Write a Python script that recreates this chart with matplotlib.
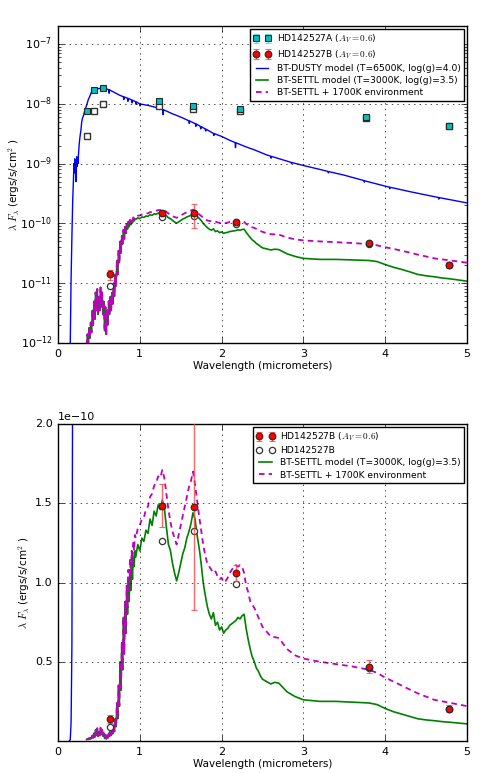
import matplotlib
matplotlib.use("Agg")
import matplotlib.pyplot as plt
import numpy as np

plt.style.use("classic")
plt.rcParams.update({
    "figure.facecolor": "white",
    "savefig.facecolor": "white",
    "font.family": ["DejaVu Sans"],
    "xtick.labelsize": 8,
    "ytick.labelsize": 8,
    "axes.labelsize": 7.5,
    "legend.fontsize": 6.6,
})

UNIT = 1e-10  # all flux values below are in units of 1e-10 ergs/s/cm^2

# ---- BT-DUSTY model (T=6500K) ----
dusty_wl = [0.14, 0.15, 0.16, 0.17, 0.18, 0.19, 0.195, 0.2, 0.205, 0.21, 0.215, 0.22, 0.225,
            0.23, 0.235, 0.24, 0.245, 0.25, 0.26, 0.27, 0.28, 0.29, 0.3, 0.31, 0.33, 0.35, 0.37,
            0.39, 0.41, 0.43, 0.47, 0.51, 0.55, 0.6, 0.62, 0.625, 0.63, 0.7, 0.75, 0.8, 0.805,
            0.81, 0.85, 0.855, 0.86, 0.9, 0.905, 0.91, 0.95, 0.955, 0.96, 1.0, 1.005, 1.01, 1.1,
            1.2, 1.28, 1.285, 1.29, 1.4, 1.5, 1.6, 1.605, 1.61, 1.68, 1.685, 1.69, 1.74, 1.745,
            1.75, 1.8, 1.805, 1.81, 1.9, 1.905, 1.91, 2.0, 2.1, 2.165, 2.17, 2.175, 2.3, 2.4,
            2.55, 2.6, 2.605, 2.61, 2.8, 2.85, 2.855, 2.86, 3.0, 3.2, 3.3, 3.305, 3.31, 3.5,
            3.74, 3.745, 3.75, 4.0, 4.05, 4.055, 4.06, 4.3, 4.6, 4.65, 4.655, 4.66, 5.0]
dusty_flux = [0.001, 0.01, 0.12, 0.6, 2.5, 6.0, 10, 7, 12, 8, 11, 5, 10,
              13, 9, 12, 10, 14, 22, 29, 36, 50, 58, 62, 80, 95, 117,
              135, 158, 168, 176, 181, 185, 176, 172, 150, 171, 152, 140, 131, 118,
              130, 124, 110, 123, 116, 104, 115, 108, 98, 107, 100, 92, 99, 94,
              87, 80, 66, 79.5, 68, 60, 52, 47, 51.5, 46.5, 42, 46, 42, 38,
              41.5, 38, 35, 37.6, 32, 29.5, 31.7, 28.5, 24.5, 22.5, 18.5, 22.3, 19, 17,
              14, 13.3, 12.3, 13.2, 11.0, 10.5, 10.0, 10.4, 9.3, 8.0, 7.4, 7.0, 7.35, 6.4,
              5.2, 4.9, 5.15, 4.2, 4.05, 3.8, 4.02, 3.4, 2.8, 2.72, 2.55, 2.7, 2.2]

# ---- BT-SETTL model (T=3000K) ----
settl_wl_short = [0.35, 0.36, 0.37, 0.38, 0.39, 0.40, 0.41, 0.42, 0.43, 0.44, 0.45, 0.46, 0.47,
                  0.48, 0.49, 0.50, 0.51, 0.52, 0.53, 0.54, 0.55, 0.56, 0.57, 0.58, 0.59, 0.60,
                  0.61, 0.62, 0.63, 0.64, 0.65, 0.66, 0.67, 0.68, 0.69, 0.70, 0.71, 0.72, 0.73,
                  0.74, 0.75, 0.76, 0.77, 0.78, 0.79, 0.80, 0.81, 0.82, 0.83, 0.84, 0.85, 0.86,
                  0.87, 0.88, 0.89, 0.90, 0.91, 0.92, 0.93, 0.94]
settl_flux_short = [0.009, 0.014, 0.010, 0.018, 0.012, 0.022, 0.015, 0.035, 0.02, 0.05, 0.025, 0.07,
                    0.035, 0.08, 0.03, 0.06, 0.035, 0.085, 0.04, 0.07, 0.03, 0.05, 0.016, 0.04,
                    0.014, 0.035, 0.02, 0.05, 0.03, 0.06, 0.035, 0.07, 0.045, 0.10, 0.06, 0.14,
                    0.09, 0.24, 0.14, 0.35, 0.22, 0.50, 0.32, 0.62, 0.45, 0.78, 0.55, 0.88, 0.68,
                    0.98, 0.80, 1.02, 0.88, 1.08, 0.95, 1.12, 1.02, 1.16, 1.10, 1.20]
settl_wl_mid = [0.95, 0.975, 1.0, 1.025, 1.05, 1.075, 1.1, 1.125, 1.15, 1.175, 1.2, 1.225, 1.25,
                1.275, 1.3, 1.325, 1.35, 1.375, 1.4, 1.425, 1.45, 1.475, 1.5, 1.525, 1.55, 1.575,
                1.6, 1.625, 1.65, 1.675, 1.7, 1.725, 1.75, 1.775, 1.8, 1.825, 1.85, 1.875, 1.9,
                1.925, 1.95, 1.975, 2.0, 2.025, 2.05, 2.075, 2.1, 2.125, 2.15, 2.175, 2.2, 2.225,
                2.25, 2.275, 2.3, 2.325, 2.35, 2.375, 2.4, 2.425, 2.45, 2.475, 2.5]
settl_flux_mid = [1.16, 1.24, 1.20, 1.28, 1.26, 1.33, 1.31, 1.40, 1.36, 1.45, 1.42, 1.49, 1.46,
                  1.52, 1.47, 1.35, 1.24, 1.20, 1.12, 1.06, 1.01, 1.06, 1.12, 1.18, 1.22, 1.28,
                  1.32, 1.37, 1.44, 1.40, 1.30, 1.22, 1.12, 1.00, 0.92, 0.85, 0.80, 0.77, 0.81,
                  0.73, 0.75, 0.70, 0.72, 0.68, 0.70, 0.71, 0.73, 0.74, 0.75, 0.76, 0.78, 0.77,
                  0.79, 0.80, 0.71, 0.64, 0.58, 0.53, 0.50, 0.46, 0.44, 0.41, 0.39]
settl_wl_tail = [2.6, 2.65, 2.7, 2.8, 2.9, 3.0, 3.2, 3.4, 3.6, 3.8, 3.9, 4.0, 4.1, 4.2, 4.3, 4.4,
                 4.5, 4.6, 4.7, 4.8, 4.9, 5.0]
settl_flux_tail = [0.36, 0.37, 0.365, 0.31, 0.28, 0.26, 0.25, 0.25, 0.245, 0.24, 0.23, 0.205,
                   0.185, 0.17, 0.155, 0.14, 0.133, 0.128, 0.122, 0.118, 0.113, 0.108]

# ---- BT-SETTL + 1700K environment ----
env_flux_short = [0.009, 0.014, 0.010, 0.018, 0.012, 0.022, 0.015, 0.035, 0.02, 0.05, 0.025, 0.07,
                  0.035, 0.08, 0.03, 0.06, 0.035, 0.085, 0.04, 0.07, 0.03, 0.05, 0.016, 0.04,
                  0.014, 0.035, 0.02, 0.05, 0.03, 0.06, 0.035, 0.07, 0.045, 0.10, 0.06, 0.14,
                  0.09, 0.24, 0.14, 0.35, 0.22, 0.50, 0.32, 0.62, 0.45, 0.78, 0.55, 0.88, 0.68,
                  0.98, 0.84, 1.08, 0.95, 1.15, 1.04, 1.20, 1.12, 1.26, 1.20, 1.30]
env_flux_mid = [1.28, 1.34, 1.36, 1.40, 1.41, 1.46, 1.48, 1.54, 1.56, 1.61, 1.63, 1.67, 1.66,
                1.71, 1.66, 1.56, 1.46, 1.38, 1.32, 1.28, 1.24, 1.30, 1.36, 1.42, 1.48, 1.54,
                1.60, 1.64, 1.70, 1.62, 1.52, 1.42, 1.33, 1.24, 1.17, 1.12, 1.10, 1.08, 1.06,
                1.07, 1.04, 1.02, 1.03, 1.00, 1.01, 1.03, 1.06, 1.08, 1.10, 1.11, 1.10, 1.11,
                1.10, 1.06, 0.98, 0.94, 0.88, 0.86, 0.84, 0.81, 0.78, 0.75, 0.72]
env_flux_tail = [0.66, 0.655, 0.65, 0.58, 0.54, 0.52, 0.50, 0.485, 0.47, 0.45, 0.43, 0.40,
                 0.375, 0.35, 0.325, 0.30, 0.28, 0.26, 0.25, 0.24, 0.23, 0.22]

# ---- photometry ----
a_wl = [0.36, 0.44, 0.55, 1.235, 1.65, 2.22, 3.77, 4.78]
a_flux = [75, 169, 185, 112, 93, 81, 61, 43]
a_err = [4, 8, 9, 6, 5, 4, 3, 2]
a_raw_flux = [29, 77, 100, 93, 83, 77, 59, 42]

b_wl = [0.64, 1.27, 1.66, 2.18, 3.80, 4.78]
b_flux = [0.14, 1.485, 1.477, 1.06, 0.47, 0.205]
b_err = [0.025, 0.135, 0.65, 0.05, 0.04, 0.025]
b_raw_flux = [0.09, 1.26, 1.325, 0.99, 0.46, 0.20]

lab_a = r"HD142527A ($A_V=0.6$)"
lab_b = r"HD142527B ($A_V=0.6$)"
lab_braw = "HD142527B"
lab_dusty = "BT-DUSTY model (T=6500K, log(g)=4.0)"
lab_settl = "BT-SETTL model (T=3000K, log(g)=3.5)"
lab_env = "BT-SETTL + 1700K environment"
xlabel = "Wavelength (micrometers)"
ylabel = r"$\lambda$ $F_\lambda$ (ergs/s/cm$^2$ )"

u = lambda v: np.asarray(v, dtype=float) * UNIT
settl_wl = settl_wl_short + settl_wl_mid + settl_wl_tail
settl_flux = u(settl_flux_short + settl_flux_mid + settl_flux_tail)
env_flux = u(env_flux_short + env_flux_mid + env_flux_tail)

W, H = 483, 773
fig = plt.figure(figsize=(W / 100, H / 100), dpi=100)
ax1 = fig.add_axes([58 / W, 1 - 343 / H, 409 / W, 317 / H])
ax2 = fig.add_axes([58 / W, 1 - 741 / H, 409 / W, 317 / H])

red_ecol = (1.0, 0.25, 0.25, 0.8)

# ---------- top panel ----------
ax1.plot(settl_wl, settl_flux, color="g", lw=1.2, label=lab_settl, zorder=2)
ax1.plot(settl_wl, env_flux, color="m", lw=1.3, ls="--", dashes=(4, 3), label=lab_env, zorder=2)
ax1.plot(dusty_wl, u(dusty_flux), color="b", lw=1.0, label=lab_dusty, zorder=2)
ax1.plot(a_wl, u(a_raw_flux), ls="none", marker="s", ms=4.5, mfc="white", mec="0.2", mew=1.0, zorder=3)
ax1.errorbar(a_wl, u(a_flux), yerr=u(a_err), fmt="s", ms=4.5, mfc="c", mec="0.15", mew=0.8,
             ecolor=(0.3, 0.85, 0.85, 0.8), capsize=2.5, label=lab_a, zorder=4)
ax1.plot(b_wl, u(b_raw_flux), ls="none", marker="o", ms=4.5, mfc="white", mec="0.2", mew=0.9, zorder=3)
ax1.errorbar(b_wl, u(b_flux), yerr=u(b_err), fmt="o", ms=4.8, mfc="r", mec="0.15", mew=0.8,
             ecolor=red_ecol, capsize=2.5, label=lab_b, zorder=4)
ax1.set_yscale("log")
ax1.set_xlim(0, 5)
ax1.set_ylim(1e-12, 2e-7)
ax1.grid(True)
ax1.set_xlabel(xlabel, labelpad=2)
ax1.set_ylabel(ylabel, labelpad=-1)
h, l = ax1.get_legend_handles_labels()
order = [lab_a, lab_b, lab_dusty, lab_settl, lab_env]
hd = dict(zip(l, h))
ax1.legend([hd[k] for k in order], order, loc="upper right", numpoints=2,
           borderaxespad=0.35, handlelength=2.0, labelspacing=0.35, borderpad=0.35,
           handletextpad=0.6)

# ---------- bottom panel ----------
ax2.plot(dusty_wl, u(dusty_flux), color="b", lw=1.0, zorder=2)
ax2.plot(settl_wl, settl_flux, color="g", lw=1.2, label=lab_settl, zorder=2)
ax2.plot(settl_wl, env_flux, color="m", lw=1.3, ls="--", dashes=(4, 3), label=lab_env, zorder=2)
ax2.plot(b_wl, u(b_raw_flux), ls="none", marker="o", ms=4.5, mfc="white", mec="0.2", mew=0.9,
         label=lab_braw, zorder=3)
ax2.errorbar(b_wl, u(b_flux), yerr=u(b_err), fmt="o", ms=4.8, mfc="r", mec="0.15", mew=0.8,
             ecolor=red_ecol, capsize=2.5, label=lab_b, zorder=4)
ax2.set_xlim(0, 5)
ax2.set_ylim(0, 2e-10)
ax2.set_yticks(u([0.5, 1.0, 1.5, 2.0]))
ax2.grid(True)
ax2.set_xlabel(xlabel, labelpad=2)
ax2.set_ylabel(ylabel, labelpad=2)
ax2.yaxis.get_offset_text().set_fontsize(8)
h, l = ax2.get_legend_handles_labels()
order2 = [lab_b, lab_braw, lab_settl, lab_env]
hd = dict(zip(l, h))
ax2.legend([hd[k] for k in order2], order2, loc="upper right", numpoints=2,
           borderaxespad=0.35, handlelength=2.0, labelspacing=0.35, borderpad=0.35,
           handletextpad=0.6)

fig.savefig("out.png", dpi=100)
